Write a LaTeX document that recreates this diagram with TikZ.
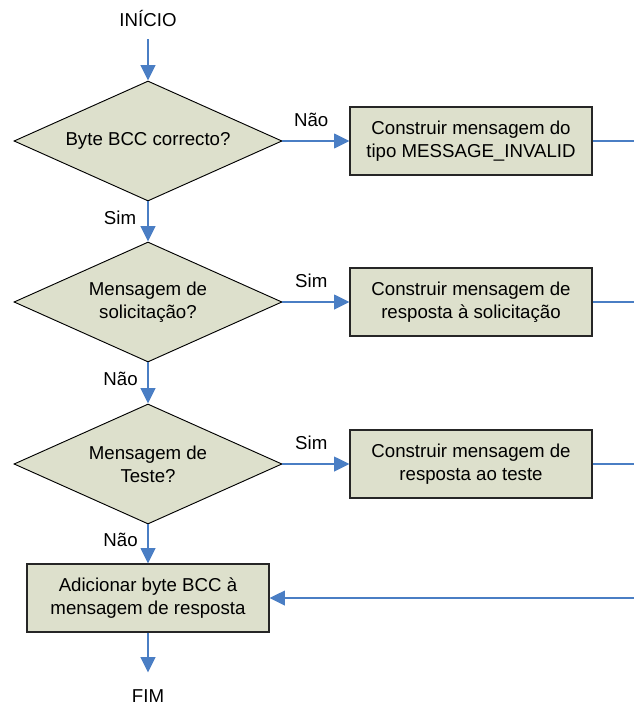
\documentclass[tikz,border=0pt]{standalone}
\usepackage{fontspec}
\setmainfont{Liberation Sans}
\usetikzlibrary{shapes.geometric,arrows.meta}
\definecolor{fundo}{RGB}{221,224,204}
\definecolor{seta}{RGB}{74,126,196}

\begin{document}
\begin{tikzpicture}[x=0.75pt,y=-0.75pt,
        font=\fontsize{14}{17}\selectfont,
        decisao/.style={diamond, draw=black, line width=0.7pt, fill=fundo,
            aspect=2.23, inner sep=0pt, minimum width=201pt, minimum height=90pt, align=center},
        processo/.style={rectangle, draw=black!85, line width=0.9pt, fill=fundo,
            inner sep=0pt, minimum width=181.5pt, minimum height=51pt, align=center},
        terminal/.style={inner sep=0pt, outer sep=9pt},
        fluxo/.style={draw=seta, line width=1.4pt, -{Triangle[length=11.5pt,width=11pt]}},
        linha/.style={draw=seta, line width=1.4pt},
        rotulo/.style={inner sep=0pt, text=black}]

        % area da figura
        \useasboundingbox (0,0) rectangle (634,706);

        % inicio
        \node[terminal, anchor=base] (inicio) at (148,27) {INÍCIO};

        % primeira decisao
        \node[decisao] (bcc) at (148,141) {Byte BCC correcto?};
        \node[processo] (invalida) at (471,141) {Construir mensagem do\\tipo MESSAGE\_INVALID};

        % segunda decisao
        \node[decisao] (solic) at (148,302) {Mensagem de\\solicitação?};
        \node[processo] (respsolic) at (471,302) {Construir mensagem de\\resposta à solicitação};

        % terceira decisao
        \node[decisao] (teste) at (148,464) {Mensagem de\\Teste?};
        \node[processo] (respteste) at (471,464) {Construir mensagem de\\resposta ao teste};

        % fecho
        \node[processo] (adbcc) at (148,598) {Adicionar byte BCC à\\mensagem de resposta};
        \node[terminal, anchor=base] (fim) at (148,702) {FIM};

        % saidas para a direita
        \coordinate (saida1) at (634,141);
        \coordinate (saida2) at (634,302);
        \coordinate (saida3) at (634,464);
        \coordinate (entrada) at (634,598);

        % ligacoes
        \draw[fluxo] (inicio) -- (bcc);
        \draw[fluxo] (bcc) -- node[rotulo, pos=0.43, above=9.75pt] {Não} (invalida);
        \draw[fluxo] (bcc) -- node[rotulo, pos=0.4, left=8.25pt] {Sim} (solic);
        \draw[fluxo] (solic) -- node[rotulo, pos=0.43, above=9.75pt] {Sim} (respsolic);
        \draw[fluxo] (solic) -- node[rotulo, pos=0.39, left=7pt] {Não} (teste);
        \draw[fluxo] (teste) -- node[rotulo, pos=0.43, above=9.75pt] {Sim} (respteste);
        \draw[fluxo] (teste) -- node[rotulo, pos=0.4, left=7pt] {Não} (adbcc);
        \draw[fluxo, shorten >=3.5pt] (adbcc) -- (fim);

        \draw[linha] (invalida) -- (saida1);
        \draw[linha] (respsolic) -- (saida2);
        \draw[linha] (respteste) -- (saida3);
        \draw[fluxo] (entrada) -- (adbcc);
    \end{tikzpicture}
\end{document}
